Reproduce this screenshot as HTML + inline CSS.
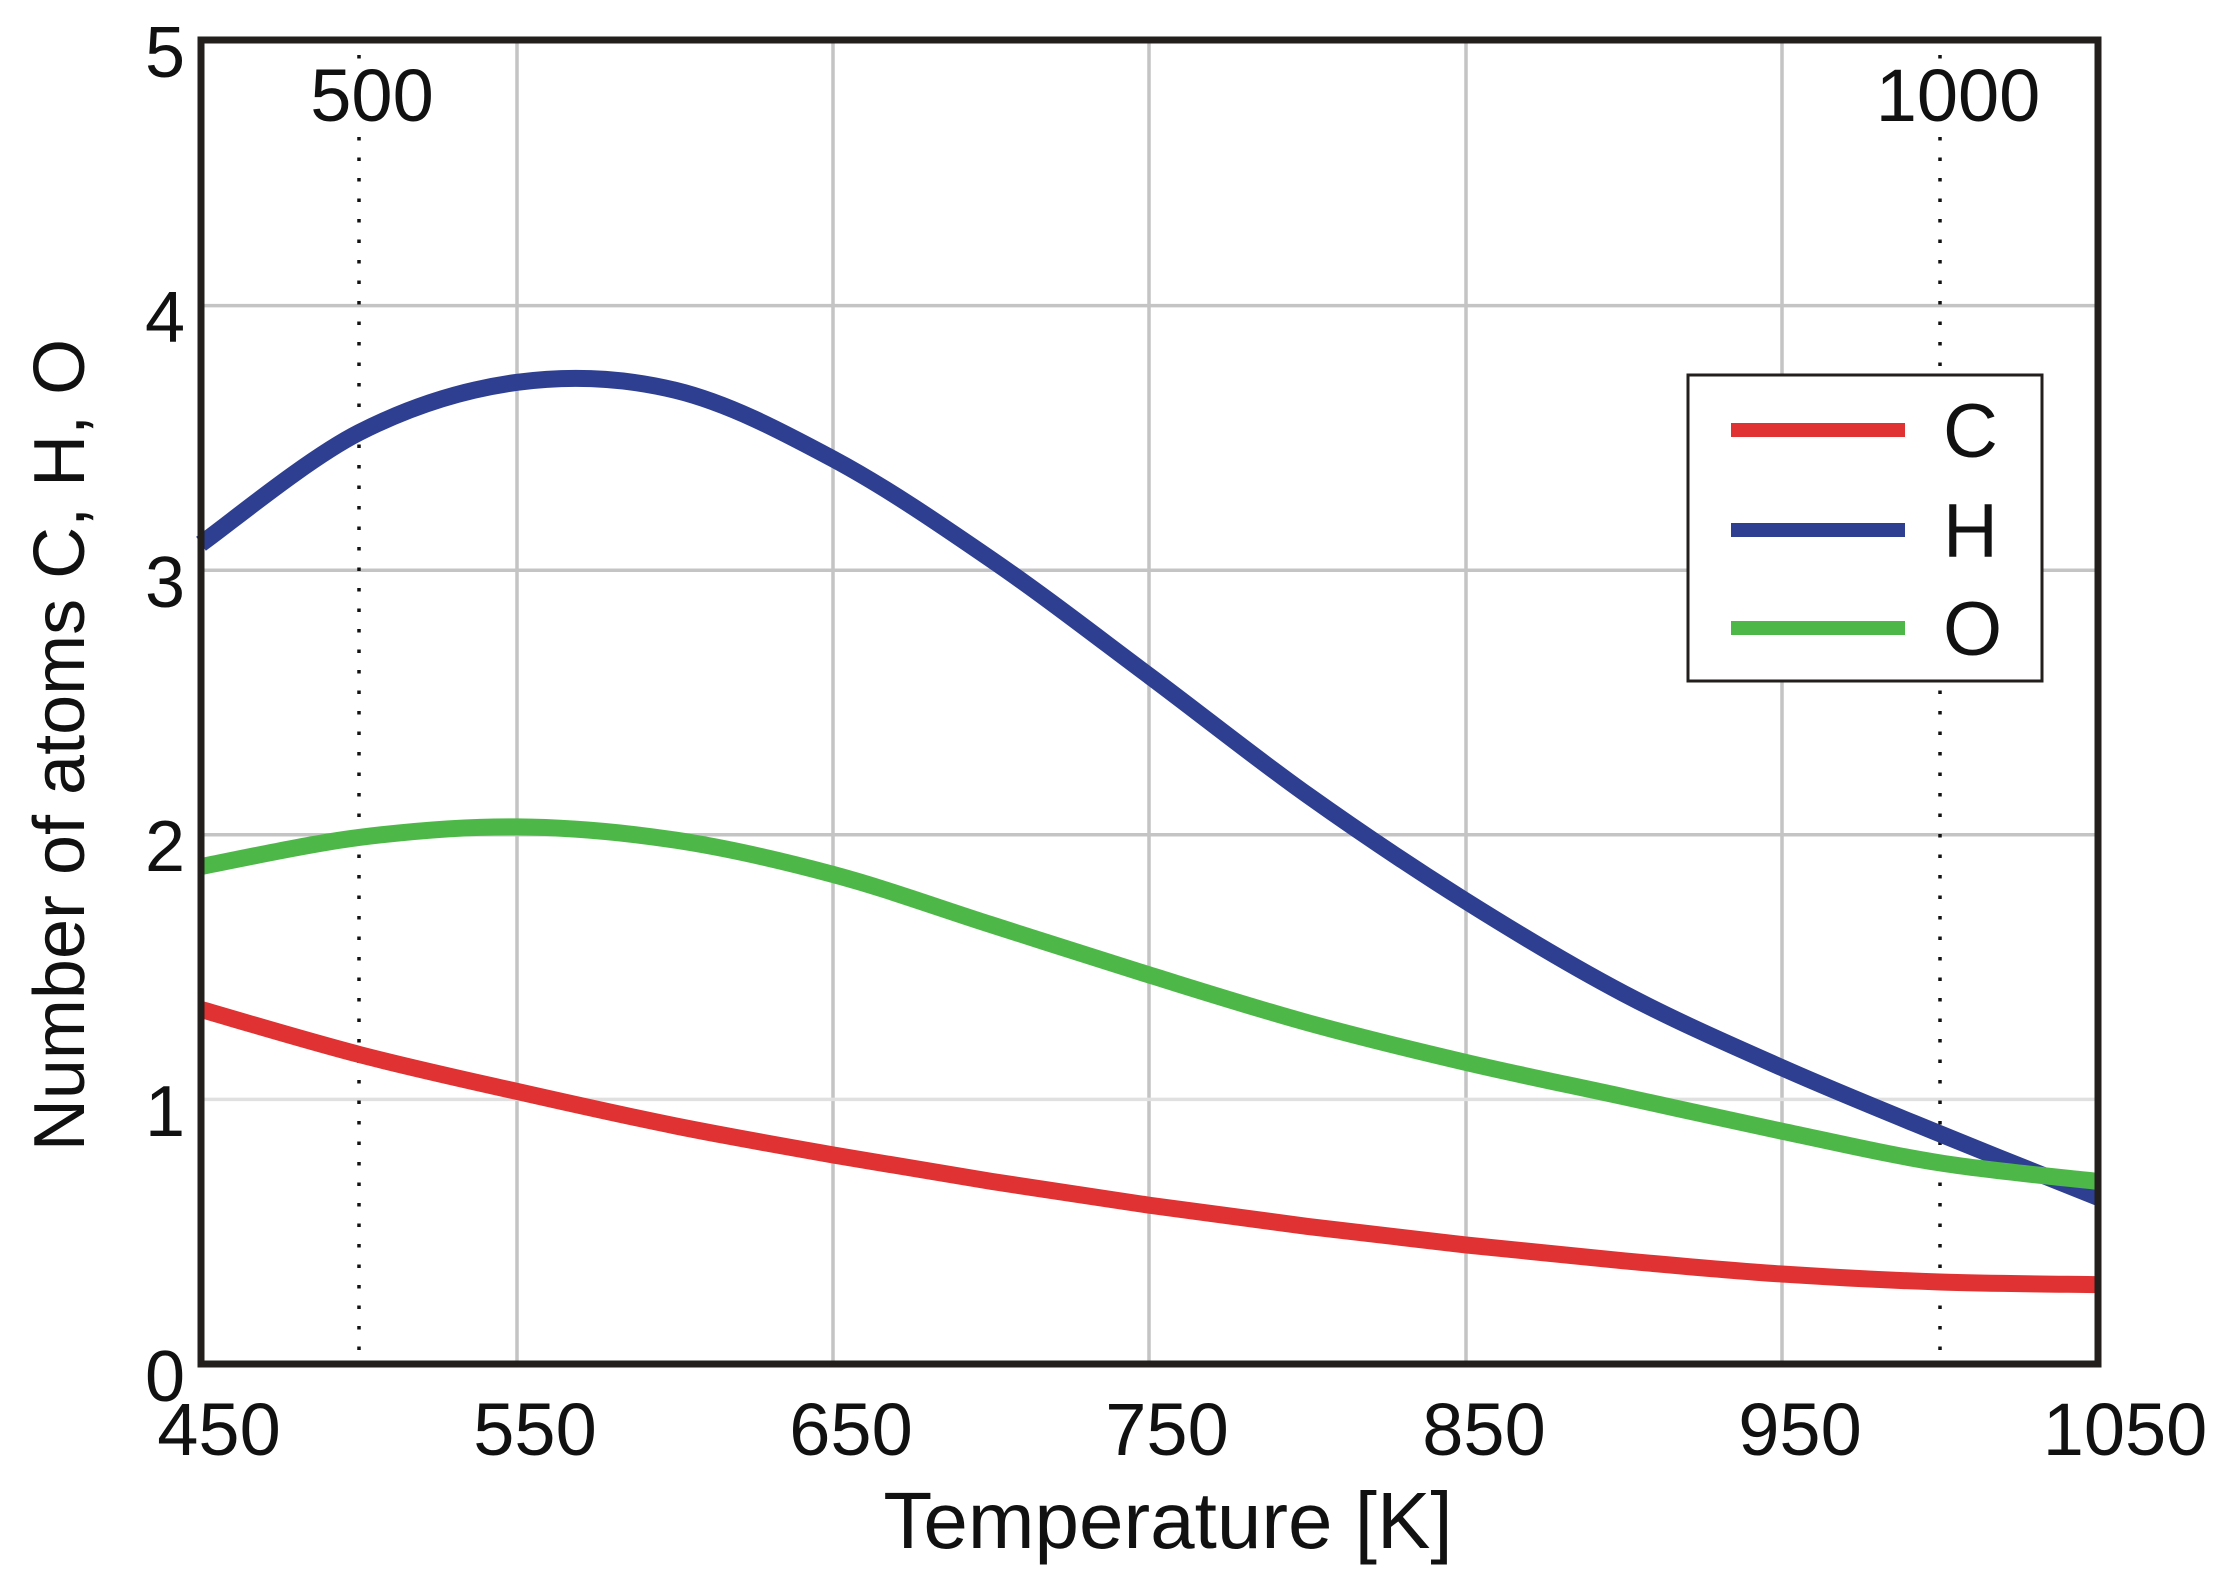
<!DOCTYPE html>
<html><head><meta charset="utf-8"><style>
html,body{margin:0;padding:0;background:#fff}
svg{display:block}
text{font-family:"Liberation Sans",sans-serif;fill:#111}
</style></head><body>
<svg id="s" width="2234" height="1580" viewBox="0 0 2234 1580" xmlns="http://www.w3.org/2000/svg">
<g stroke="#c4c4c4" stroke-width="3.5">
<line x1="517" y1="40" x2="517" y2="1364"/><line x1="833" y1="40" x2="833" y2="1364"/>
<line x1="1149" y1="40" x2="1149" y2="1364"/><line x1="1466" y1="40" x2="1466" y2="1364"/>
<line x1="1782" y1="40" x2="1782" y2="1364"/>
<line x1="201" y1="305.6" x2="2098" y2="305.6"/><line x1="201" y1="570.2" x2="2098" y2="570.2"/>
<line x1="201" y1="834.8" x2="2098" y2="834.8"/><line x1="201" y1="1099.4" x2="2098" y2="1099.4" stroke="#e0e0e0"/>
</g>
<g stroke="#111" stroke-width="3.5" stroke-dasharray="3.5 17">
<line x1="359" y1="55" x2="359" y2="1364"/><line x1="1940" y1="55" x2="1940" y2="1364"/>
</g>
<rect x="300" y="60" width="140" height="70" fill="#fff"/>
<rect x="1865" y="60" width="185" height="70" fill="#fff"/>
<text x="372" y="121" font-size="74" text-anchor="middle">500</text>
<text x="1958" y="121" font-size="74" text-anchor="middle">1000</text>
<g id="curves" fill="none" stroke-width="17" stroke-linecap="butt"></g>
<rect x="201" y="40" width="1897" height="1324" fill="none" stroke="#231f1c" stroke-width="7"/>
<rect x="1688" y="375" width="354" height="306" fill="#fff" stroke="#231f1c" stroke-width="3"/>
<line x1="1731" y1="430" x2="1905" y2="430" stroke="#e03232" stroke-width="14"/>
<line x1="1731" y1="530" x2="1905" y2="530" stroke="#2e3f92" stroke-width="14"/>
<line x1="1731" y1="628" x2="1905" y2="628" stroke="#4db848" stroke-width="14"/>
<text x="1943" y="457" font-size="76">C</text>
<text x="1943" y="557" font-size="76">H</text>
<text x="1943" y="655" font-size="76">O</text>
<g font-size="72" text-anchor="end">
<text x="185" y="77">5</text><text x="185" y="342">4</text><text x="185" y="607">3</text>
<text x="185" y="871">2</text><text x="185" y="1136">1</text><text x="185" y="1401">0</text>
</g>
<g font-size="74" text-anchor="middle">
<text x="219" y="1455">450</text><text x="535" y="1455">550</text><text x="851" y="1455">650</text>
<text x="1167" y="1455">750</text><text x="1484" y="1455">850</text><text x="1800" y="1455">950</text>
<text x="2125" y="1455">1050</text>
</g>
<text x="1168" y="1548" font-size="80" text-anchor="middle">Temperature [K]</text>
<text transform="translate(84,745) rotate(-90)" font-size="72" text-anchor="middle">Number of atoms C, H, O</text>
</svg>
<script>
var T=[450,500,550,600,650,700,750,800,850,900,950,1000,1050];
var S={
"#e03232":[1.34,1.17,1.03,0.9,0.79,0.69,0.6,0.52,0.45,0.39,0.34,0.31,0.30],
"#2e3f92":[3.10,3.52,3.71,3.68,3.42,3.04,2.60,2.15,1.75,1.40,1.12,0.87,0.63],
"#4db848":[1.88,1.99,2.03,1.98,1.85,1.66,1.47,1.29,1.14,1.01,0.88,0.76,0.69]};
function X(t){return 201+(t-450)*1897/600}
function Y(v){return 1364-264.6*v}
var g=document.getElementById('curves'),ns="http://www.w3.org/2000/svg";
for(var c in S){var v=S[c],p=[];for(var i=0;i<T.length;i++)p.push([X(T[i]),Y(v[i])]);
var d="M"+p[0][0]+","+p[0][1];
for(var i=0;i<p.length-1;i++){var p0=p[Math.max(i-1,0)],p1=p[i],p2=p[i+1],p3=p[Math.min(i+2,p.length-1)];
d+=" C"+(p1[0]+(p2[0]-p0[0])/6)+","+(p1[1]+(p2[1]-p0[1])/6)+" "+(p2[0]-(p3[0]-p1[0])/6)+","+(p2[1]-(p3[1]-p1[1])/6)+" "+p2[0]+","+p2[1];}
var e=document.createElementNS(ns,"path");e.setAttribute("d",d);e.setAttribute("stroke",c);g.appendChild(e);}
</script>
</body></html>
